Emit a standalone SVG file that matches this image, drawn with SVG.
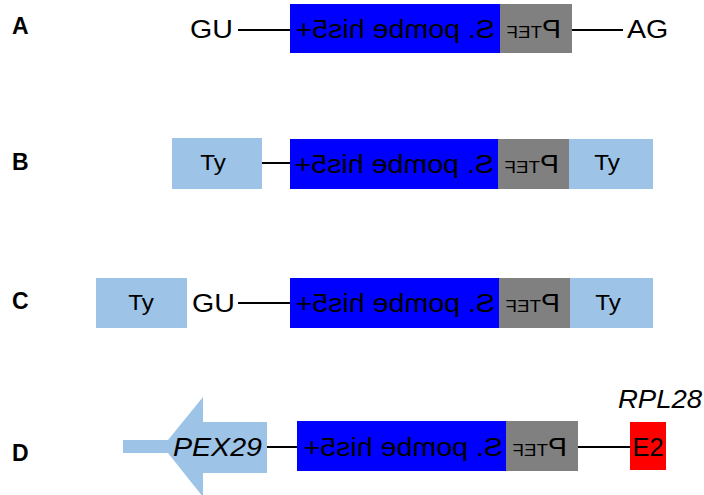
<svg xmlns="http://www.w3.org/2000/svg" width="704" height="495" viewBox="0 0 704 495">
  <style>
    .t { font-family: "Liberation Sans", Arial, sans-serif; font-size: 26px; fill: #000; }
    .lbl { font-family: "Liberation Sans", Arial, sans-serif; font-size: 23px; font-weight: bold; fill: #000; }
    .ty { font-family: "Liberation Sans", Arial, sans-serif; font-size: 22px; fill: #000; }
    .sm { font-size: 17px; }
    .his { fill: #0000FF; }
    .ptef { fill: #808080; }
    .tyb { fill: #9DC3E6; }
    .e2 { fill: #FF0000; }
    .ln { stroke: #000; stroke-width: 2; fill: none; }
  </style>
  <rect width="704" height="495" fill="#FFFFFF"/>

  <!-- panel letters -->
  <text class="lbl" x="12" y="34">A</text>
  <text class="lbl" x="12" y="170">B</text>
  <text class="lbl" x="12" y="309">C</text>
  <text class="lbl" x="12" y="461">D</text>

  <!-- connectors -->
  <g id="connectors">
    <line class="ln" x1="238" y1="30" x2="290" y2="30"/>
    <line class="ln" x1="572" y1="30" x2="623" y2="30"/>
    <line class="ln" x1="262" y1="163" x2="290" y2="163"/>
    <line class="ln" x1="238" y1="303" x2="290" y2="303"/>
    <line class="ln" x1="267" y1="447" x2="297" y2="447"/>
    <line class="ln" x1="578" y1="447" x2="630" y2="447"/>
  </g>

  <!-- row A -->
  <g id="a-gu"><text class="t" text-anchor="end" transform="translate(233,38) scale(1.1,1)">GU</text></g>
  <g id="a-his5">
    <rect class="his" x="290" y="4" width="210" height="49"/>
    <text class="t" transform="translate(495,38) scale(-1.1,1)">S. pombe his5+</text>
  </g>
  <g id="a-ptef">
    <rect class="ptef" x="500" y="4" width="72" height="49"/>
    <text class="t" transform="translate(561,38) scale(-1.1,1)">P<tspan class="sm">TEF</tspan></text>
  </g>
  <g id="a-ag"><text class="t" transform="translate(627,38) scale(1.1,1)">AG</text></g>

  <!-- row B -->
  <g id="b-ty-left">
    <rect class="tyb" x="172" y="138" width="90" height="51"/>
    <text class="ty" text-anchor="middle" transform="translate(213,170) scale(1.1,1)">Ty</text>
  </g>
  <g id="b-his5">
    <rect class="his" x="290" y="139" width="208" height="50"/>
    <text class="t" transform="translate(494,173) scale(-1.1,1)">S. pombe his5+</text>
  </g>
  <g id="b-ptef">
    <rect class="ptef" x="498" y="139" width="71" height="50"/>
    <text class="t" transform="translate(559,173) scale(-1.1,1)">P<tspan class="sm">TEF</tspan></text>
  </g>
  <g id="b-ty-right">
    <rect class="tyb" x="569" y="139" width="84" height="50"/>
    <text class="ty" text-anchor="middle" transform="translate(607,170) scale(1.1,1)">Ty</text>
  </g>

  <!-- row C -->
  <g id="c-ty-left">
    <rect class="tyb" x="96" y="278" width="91" height="50"/>
    <text class="ty" text-anchor="middle" transform="translate(141,310) scale(1.1,1)">Ty</text>
  </g>
  <g id="c-gu"><text class="t" text-anchor="end" transform="translate(235,312) scale(1.1,1)">GU</text></g>
  <g id="c-his5">
    <rect class="his" x="290" y="278" width="209" height="50"/>
    <text class="t" transform="translate(495,312) scale(-1.1,1)">S. pombe his5+</text>
  </g>
  <g id="c-ptef">
    <rect class="ptef" x="499" y="278" width="71" height="50"/>
    <text class="t" transform="translate(560,312) scale(-1.1,1)">P<tspan class="sm">TEF</tspan></text>
  </g>
  <g id="c-ty-right">
    <rect class="tyb" x="570" y="278" width="83" height="50"/>
    <text class="ty" text-anchor="middle" transform="translate(608,310) scale(1.1,1)">Ty</text>
  </g>

  <!-- row D -->
  <g id="d-pex29">
    <path class="tyb" d="M123,440 H168 L203,397 V422 H267 V473 H203 V497 L168,453 H123 Z"/>
    <text class="t" font-style="italic" text-anchor="end" transform="translate(262,456) scale(1.1,1)">PEX29</text>
  </g>
  <g id="d-his5">
    <rect class="his" x="297" y="421" width="209" height="50"/>
    <text class="t" transform="translate(503,456) scale(-1.1,1)">S. pombe his5+</text>
  </g>
  <g id="d-ptef">
    <rect class="ptef" x="506" y="421" width="72" height="50"/>
    <text class="t" transform="translate(567,456) scale(-1.1,1)">P<tspan class="sm">TEF</tspan></text>
  </g>
  <g id="d-e2">
    <rect class="e2" x="630" y="422" width="36" height="48"/>
    <text class="t" text-anchor="middle" transform="translate(648,456) scale(0.98,1)">E2</text>
    <text class="t" font-style="italic" text-anchor="middle" transform="translate(660,408) scale(1.06,1)">RPL28</text>
  </g>
</svg>
